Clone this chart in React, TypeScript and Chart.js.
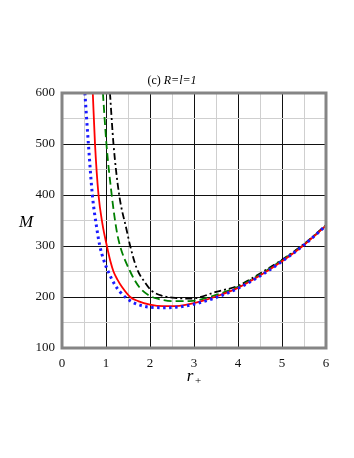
import React, { useEffect, useRef } from "react";
import { Chart, registerables } from "chart.js";
Chart.register(...registerables);

const titlePrefix = "(c) ";
const titleItalic = "R=l=1";
const yTitle = "M";
const xTitle = "r";
const xTitleSub = "+";

const xTicksMin = 0;
const xTicksMax = 6;
const yTicksMin = 100;
const yTicksMax = 600;

const redR = [0.7, 0.75, 0.83, 0.92, 1.02, 1.1, 1.17, 1.26, 1.36, 1.55, 1.73, 2.0, 2.3, 2.6, 3.0, 3.5, 4.0, 4.5, 5.0, 5.5, 6.0];
const redM = [600, 500, 400, 343, 300, 270, 250, 234, 220, 200, 192, 185, 182, 182, 188, 201, 218, 242, 270, 302, 340];

const blueR = [0.52, 0.6, 0.69, 0.79, 0.86, 0.95, 1.05, 1.2, 1.32, 1.45, 1.6, 1.77, 2.0, 2.38, 2.7, 3.0, 3.5, 4.0, 4.5, 5.0, 5.5, 6.0];
const blueM = [600, 500, 400, 335, 300, 272, 250, 224, 210, 199, 190, 184, 180, 179, 181, 186, 199, 217, 241, 270, 302, 340];

const greenR = [0.93, 1.01, 1.13, 1.24, 1.32, 1.55, 1.75, 1.96, 2.2, 2.5, 2.9, 3.5, 4.0, 4.5, 5.0, 5.5, 6.0];
const greenM = [600, 500, 400, 331, 300, 250, 220, 204, 196, 192, 192, 204, 220, 244, 272, 303, 340];

const blackR = [1.09, 1.17, 1.3, 1.47, 1.55, 1.7, 1.89, 2.04, 2.3, 2.6, 2.95, 3.5, 4.0, 4.5, 5.0, 5.5, 6.0];
const blackM = [600, 500, 400, 331, 300, 256, 228, 212, 202, 198, 197, 210, 222, 246, 273, 304, 341];

const toPts = (xs: number[], ys: number[]) => xs.map((x, i) => ({ x, y: ys[i] }));

const SERIF = '"Liberation Serif", "DejaVu Serif", serif';

const decorPlugin = {
  id: "decor",
  afterDraw(chart: any) {
    const { ctx, chartArea } = chart;
    ctx.save();
    ctx.strokeStyle = "#858585";
    ctx.lineWidth = 3;
    ctx.strokeRect(chartArea.left, chartArea.top, chartArea.right - chartArea.left, chartArea.bottom - chartArea.top);
    ctx.fillStyle = "#000";
    ctx.textBaseline = "middle";
    ctx.font = `12px ${SERIF}`;
    const w1 = ctx.measureText(titlePrefix).width;
    ctx.font = `italic 12px ${SERIF}`;
    const w2 = ctx.measureText(titleItalic).width;
    const x0 = 172 - (w1 + w2) / 2;
    ctx.textAlign = "left";
    ctx.font = `12px ${SERIF}`;
    ctx.fillText(titlePrefix, x0, 81);
    ctx.font = `italic 12px ${SERIF}`;
    ctx.fillText(titleItalic, x0 + w1, 81);
    ctx.font = `italic 17px ${SERIF}`;
    ctx.textAlign = "center";
    ctx.fillText(yTitle, 26, 223);
    ctx.font = `italic 17px ${SERIF}`;
    ctx.fillText(xTitle, 190, 377);
    ctx.font = `11px ${SERIF}`;
    ctx.fillText(xTitleSub, 198, 381);
    ctx.restore();
  },
};

export default function App() {
  const ref = useRef<HTMLCanvasElement | null>(null);
  useEffect(() => {
    if (!ref.current) return;
    const gridColor = (major: number) => (c: any) => {
      const v = c.tick ? c.tick.value : 0;
      return Math.abs(v / major - Math.round(v / major)) < 1e-6 ? "#111" : "#cfcfcf";
    };
    const chart = new Chart(ref.current, {
      type: "line",
      data: {
        datasets: [
          {
            data: toPts(blueR, blueM),
            borderColor: "#1a1aff",
            borderWidth: 3,
            borderDash: [2.5, 3.5],
            borderCapStyle: "butt",
            pointRadius: 0,
            cubicInterpolationMode: "monotone",
          },
          {
            data: toPts(redR, redM),
            borderColor: "#ff0000",
            borderWidth: 1.8,
            pointRadius: 0,
            cubicInterpolationMode: "monotone",
          },
          {
            data: toPts(greenR, greenM),
            borderColor: "#008000",
            borderWidth: 1.8,
            borderDash: [8, 4],
            pointRadius: 0,
            cubicInterpolationMode: "monotone",
          },
          {
            data: toPts(blackR, blackM),
            borderColor: "#000000",
            borderWidth: 1.8,
            borderDash: [7, 3, 2, 3],
            pointRadius: 0,
            cubicInterpolationMode: "monotone",
          },
        ],
      },
      options: {
        animation: false,
        responsive: false,
        layout: { padding: { left: 0, right: 28, top: 93, bottom: 70 } },
        plugins: { legend: { display: false }, tooltip: { enabled: false }, title: { display: false } },
        scales: {
          x: {
            type: "linear",
            min: xTicksMin,
            max: xTicksMax,
            afterFit: (s: any) => { s.height = 40; },
            border: { display: false },
            grid: { color: gridColor(1), drawTicks: false, lineWidth: 1 },
            ticks: {
              stepSize: 0.5,
              padding: 8,
              color: "#111",
              font: { family: SERIF, size: 13 },
              maxRotation: 0,
              autoSkip: false,
              callback: (v: any) => (Number.isInteger(v) ? String(v) : ""),
            },
          },
          y: {
            type: "linear",
            min: yTicksMin,
            max: yTicksMax,
            afterFit: (s: any) => { s.width = 62; },
            border: { display: false },
            grid: { color: gridColor(100), drawTicks: false, lineWidth: 1 },
            ticks: {
              stepSize: 50,
              padding: 7,
              color: "#111",
              font: { family: SERIF, size: 13 },
              autoSkip: false,
              callback: (v: any) => (v % 100 === 0 ? String(v) : ""),
            },
          },
        },
      },
      plugins: [decorPlugin],
    } as any);
    return () => chart.destroy();
  }, []);
  return (
    <div style={{ position: "absolute", left: 0, top: 0, width: 354, height: 458, background: "#fff" }}>
      <canvas ref={ref} width={354} height={458} style={{ width: 354, height: 458 }} />
    </div>
  );
}
